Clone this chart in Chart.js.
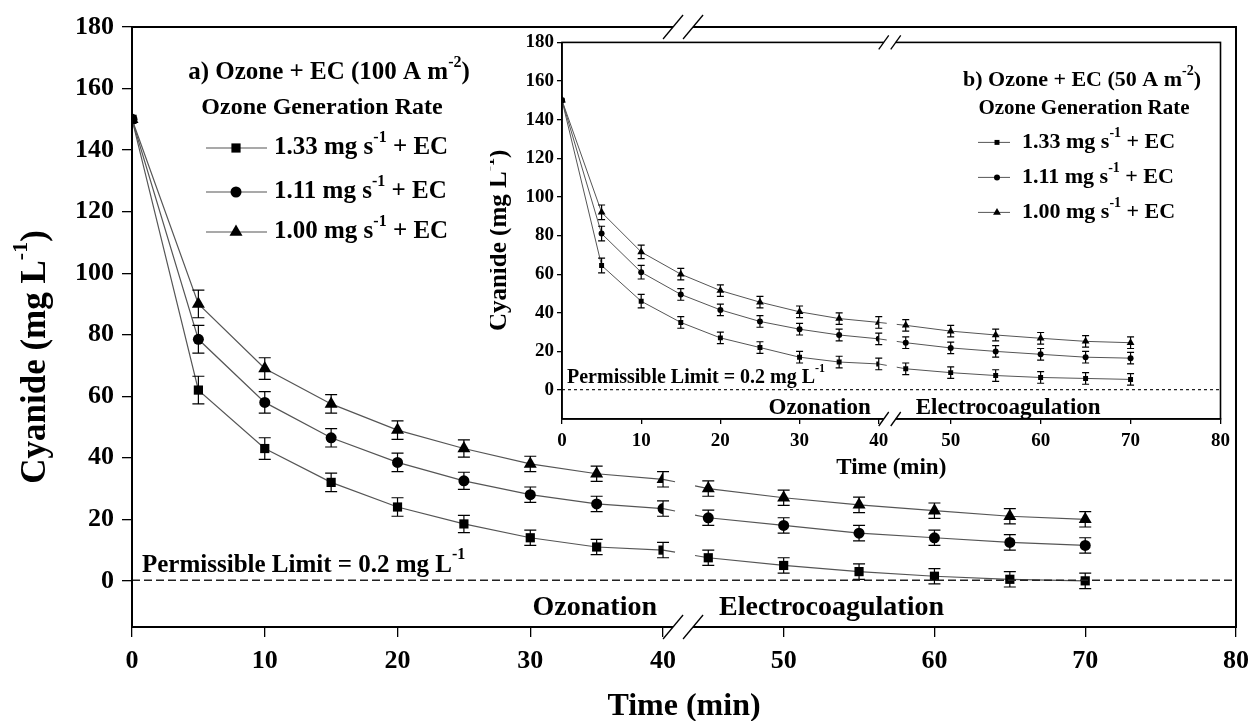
<!DOCTYPE html>
<html>
<head>
<meta charset="utf-8">
<script src="https://cdn.jsdelivr.net/npm/chart.js@4.4.1/dist/chart.umd.min.js"></script>
<style>
    html, body { margin: 0; padding: 0; background: #fff; }
    #wrap { position: relative; width: 1258px; height: 721px; }
    #main_canvas { position: absolute; left: 0; top: 0; }
    #inset_canvas { position: absolute; left: 490px; top: 28px; }
</style>
</head>
<body>
<div id="wrap">
    <canvas id="main_canvas" width="1258" height="721"></canvas>
    <canvas id="inset_canvas" width="746" height="456"></canvas>
</div>
<script>
// sampling times (min): ozonation phase, then electrocoagulation phase
const ozone_time = [0, 5, 10, 15, 20, 25, 30, 35, 40];
const ec_time = [45, 50, 55, 60, 65, 70];

const series_labels = ["1.33", "1.11", "1.00"];
const series_markers = ["rect", "circle", "triangle"];

// a) Ozone + EC (100 A m-2), cyanide in mg/L
const a_133_ozone = [150, 62, 43, 32, 24, 18.5, 14, 11, 10];
const a_133_ec = [7.5, 5, 3, 1.5, 0.5, 0];
const a_111_ozone = [150, 78.5, 58, 46.5, 38.5, 32.5, 28, 25, 23.5];
const a_111_ec = [20.5, 18, 15.5, 14, 12.5, 11.5];
const a_100_ozone = [150, 90, 69, 57.5, 49, 43, 38, 34.8, 33];
const a_100_ec = [30, 27, 24.7, 22.8, 21, 20];
const a_err_ozone = [0, 4.5, 3.5, 3, 3, 2.8, 2.5, 2.5, 2.5];
const a_err_ec = [2.5, 2.5, 2.5, 2.5, 2.5, 2.5];

// b) Ozone + EC (50 A m-2)
const b_133_ozone = [150, 64.5, 46, 35, 27, 22, 17, 14.5, 13.5];
const b_133_ec = [11, 9, 7.5, 6.5, 6, 5.5];
const b_111_ozone = [150, 81, 61, 49.5, 41.5, 35.5, 31.5, 28.5, 26.5];
const b_111_ec = [24.5, 21.8, 20, 18.5, 17, 16.5];
const b_100_ozone = [150, 92, 71.5, 60, 51.5, 45.5, 40.5, 37, 35];
const b_100_ec = [33.5, 30.5, 28.5, 26.8, 25.2, 24.5];
const b_err_ozone = [0, 3.8, 3.5, 3, 3, 3, 3, 3, 3];
const b_err_ec = [3, 3, 3, 3, 3, 3];

// axes
const y_min = -15;
const y_max = 180;
const y_step = 20;
const x_ozone_range = [0, 40];
const x_ec_range = [42, 80];
const x_step = 10;
const permissible_limit = 0.2;

const font_family = '"Liberation Serif", "Times New Roman", serif';
const line_color = "#555";

function draw_rich(ctx, parts, x, y, size, align) {
    const sup_size = Math.round(size * 0.62);
    let total = 0;
    const widths = parts.map(([t, sup]) => {
        ctx.font = "bold " + (sup ? sup_size : size) + "px " + font_family;
        const w = ctx.measureText(t).width;
        total += w;
        return w;
    });
    let cx = align === "center" ? x - total / 2 : (align === "right" ? x - total : x);
    ctx.textAlign = "left";
    ctx.textBaseline = "middle";
    ctx.fillStyle = "#000";
    parts.forEach(([t, sup], k) => {
        ctx.font = "bold " + (sup ? sup_size : size) + "px " + font_family;
        ctx.fillText(t, cx, sup ? y - size * 0.42 : y);
        cx += widths[k];
    });
}

function draw_marker(ctx, style, x, y, r) {
    ctx.beginPath();
    if (style === "rect") {
        const s = r * Math.SQRT1_2;
        ctx.rect(x - s, y - s, 2 * s, 2 * s);
    } else if (style === "circle") {
        ctx.arc(x, y, r, 0, Math.PI * 2);
    } else {
        let rad = 0;
        ctx.moveTo(x + Math.sin(rad) * r, y - Math.cos(rad) * r);
        rad += Math.PI * 2 / 3;
        ctx.lineTo(x + Math.sin(rad) * r, y - Math.cos(rad) * r);
        rad += Math.PI * 2 / 3;
        ctx.lineTo(x + Math.sin(rad) * r, y - Math.cos(rad) * r);
        ctx.closePath();
    }
    ctx.fillStyle = "#000";
    ctx.fill();
}

function make_datasets(ozone_sets, ec_sets, err_ozone, err_ec, sizes, line_width) {
    const datasets = [];
    for (let s = 0; s < series_labels.length; s++) {
        const common = {
            borderColor: line_color,
            borderWidth: line_width,
            pointStyle: series_markers[s],
            pointRadius: sizes[s],
            pointBackgroundColor: "#000",
            pointBorderColor: "#000",
            pointBorderWidth: 0,
            tension: 0,
            fill: false
        };
        datasets.push(Object.assign({
            label: series_labels[s] + " mg/s + EC",
            xAxisID: "x_ozone",
            data: ozone_time.map((t, j) => ({x: t, y: ozone_sets[s][j]})),
            error_bars: err_ozone
        }, common));
        datasets.push(Object.assign({
            label: series_labels[s] + " mg/s + EC (EC)",
            xAxisID: "x_ec",
            data: ec_time.map((t, j) => ({x: t, y: ec_sets[s][j]})),
            error_bars: err_ec
        }, common));
    }
    return datasets;
}

// decorations: frame, axis breaks, error bars, labels, legend
function panel_plugin(cfg) {
    return {
        id: "panel_decor",
        beforeDatasetsDraw(chart) {
            const ctx = chart.ctx;
            const brk_x = chart.scales.x_ozone.right;
            ctx.save();
            ctx.strokeStyle = line_color;
            ctx.lineWidth = cfg.line_width;
            for (let s = 0; s < series_labels.length; s++) {
                const a = chart.getDatasetMeta(2 * s).data;
                const b = chart.getDatasetMeta(2 * s + 1).data;
                const p1 = a[a.length - 1], p2 = b[0];
                const at = (px) => p1.y + (p2.y - p1.y) * (px - p1.x) / (p2.x - p1.x);
                const g0 = brk_x + cfg.brk.gap0, g1 = brk_x + cfg.brk.gap1;
                ctx.beginPath();
                ctx.moveTo(p1.x, p1.y);
                ctx.lineTo(g0, at(g0));
                ctx.moveTo(g1, at(g1));
                ctx.lineTo(p2.x, p2.y);
                ctx.stroke();
            }
            ctx.restore();
        },
        afterDatasetsDraw(chart) {
            const ctx = chart.ctx;
            const y_scale = chart.scales.y;
            ctx.save();
            ctx.strokeStyle = "#000";
            ctx.lineWidth = 1.2;
            chart.data.datasets.forEach((ds, d) => {
                const meta = chart.getDatasetMeta(d);
                meta.data.forEach((pt, j) => {
                    const e = ds.error_bars[j];
                    if (!e) { return; }
                    const v = ds.data[j].y;
                    const top = y_scale.getPixelForValue(v + e);
                    const bot = y_scale.getPixelForValue(v - e);
                    const c = cfg.cap / 2;
                    ctx.beginPath();
                    ctx.moveTo(pt.x, top); ctx.lineTo(pt.x, bot);
                    ctx.moveTo(pt.x - c, top); ctx.lineTo(pt.x + c, top);
                    ctx.moveTo(pt.x - c, bot); ctx.lineTo(pt.x + c, bot);
                    ctx.stroke();
                });
            });
            ctx.restore();
        },
        afterDraw(chart) {
            const ctx = chart.ctx;
            const area = chart.chartArea;
            const y_scale = chart.scales.y;
            const brk_x = chart.scales.x_ozone.right;
            ctx.save();

            // permissible limit line
            const lim_y = y_scale.getPixelForValue(permissible_limit);
            ctx.strokeStyle = "#222";
            ctx.lineWidth = cfg.limit.width;
            ctx.setLineDash(cfg.limit.dash);
            ctx.beginPath();
            ctx.moveTo(area.left, lim_y);
            ctx.lineTo(area.right, lim_y);
            ctx.stroke();
            ctx.setLineDash([]);

            // frame
            ctx.strokeStyle = "#000";
            ctx.lineWidth = cfg.frame_width;
            ctx.strokeRect(area.left, area.top, area.right - area.left, area.bottom - area.top);

            // axis break marks on top and bottom edges
            const b = cfg.brk;
            for (const edge of [area.top, area.bottom]) {
                ctx.fillStyle = "#fff";
                ctx.fillRect(brk_x + b.slant / 2, edge - 3, b.sep, 6);
                ctx.strokeStyle = "#000";
                ctx.lineWidth = 1.3;
                for (let k = 0; k < 2; k++) {
                    const x0 = brk_x + k * b.sep;
                    ctx.beginPath();
                    ctx.moveTo(x0, edge + b.half_h);
                    ctx.lineTo(x0 + b.slant, edge - b.half_h);
                    ctx.stroke();
                }
            }

            // axis titles
            ctx.save();
            ctx.translate(area.left + cfg.y_title.dx, area.top + cfg.y_title.dy);
            ctx.rotate(-Math.PI / 2);
            draw_rich(ctx, cfg.y_title.parts, 0, 0, cfg.y_title.size, "center");
            ctx.restore();
            draw_rich(ctx, [["Time (min)", 0]], (area.left + area.right) / 2, area.bottom + cfg.x_title.dy, cfg.x_title.size, "center");

            // heading lines
            for (const h of cfg.heading) {
                draw_rich(ctx, h.parts, area.left + h.dx, area.top + h.dy, h.size, "center");
            }

            // legend
            const lg = cfg.legend;
            series_labels.forEach((name, s) => {
                const ly = area.top + lg.rows[s];
                ctx.strokeStyle = line_color;
                ctx.lineWidth = cfg.line_width;
                ctx.beginPath();
                ctx.moveTo(area.left + lg.x0, ly);
                ctx.lineTo(area.left + lg.x1, ly);
                ctx.stroke();
                draw_marker(ctx, series_markers[s], area.left + lg.xm, ly, cfg.marker_sizes[s]);
                draw_rich(ctx, [[name + " mg s", 0], ["-1", 1], [" + EC", 0]], area.left + lg.xt, ly, lg.size, "left");
            });

            // permissible limit label
            draw_rich(ctx, [["Permissible Limit = 0.2 mg L", 0], ["-1", 1]], area.left + cfg.limit.dx, lim_y + cfg.limit.dy, cfg.limit.size, "left");

            // phase labels
            const ph = cfg.phase;
            draw_rich(ctx, [["Ozonation", 0]], brk_x + ph.oz_dx, area.bottom + ph.dy, ph.size, "right");
            draw_rich(ctx, [["Electrocoagulation", 0]], brk_x + ph.ec_dx, area.bottom + ph.dy, ph.size, "left");

            ctx.restore();
        }
    };
}

function make_config(datasets, sc, cfg) {
    const tick_font = {family: font_family, size: sc.tick_size, weight: "bold"};
    const x_axis = (range, weight) => ({
        type: "linear",
        position: "bottom",
        stack: "time",
        stackWeight: weight,
        min: range[0],
        max: range[1],
        afterFit: (scale) => { scale.height = sc.x_height; },
        grid: {drawOnChartArea: false, drawTicks: true, tickLength: sc.tick_len, color: "#000", lineWidth: 1.3},
        border: {display: true, color: "#000", width: cfg.frame_width},
        ticks: {stepSize: x_step, includeBounds: false, color: "#000", font: tick_font, padding: sc.x_pad, maxRotation: 0, autoSkip: false}
    });
    return {
        type: "line",
        data: {datasets: datasets},
        options: {
            responsive: false,
            animation: false,
            events: [],
            layout: {padding: {top: sc.pad_top, right: sc.pad_right, left: 0, bottom: 0}},
            plugins: {legend: {display: false}, tooltip: {enabled: false}, title: {display: false}},
            scales: {
                y: {
                    type: "linear",
                    position: "left",
                    min: y_min,
                    max: y_max,
                    afterFit: (scale) => { scale.width = sc.y_width; },
                    grid: {drawOnChartArea: false, drawTicks: true, tickLength: sc.tick_len, color: "#000", lineWidth: 1.3},
                    border: {display: true, color: "#000", width: cfg.frame_width},
                    ticks: {stepSize: y_step, includeBounds: false, color: "#000", font: tick_font, padding: sc.y_pad}
                },
                x_ozone: x_axis(x_ozone_range, 532),
                x_ec: x_axis(x_ec_range, 574)
            }
        },
        plugins: [panel_plugin(cfg)]
    };
}

// main panel (a)
const main_cfg = {
    frame_width: 2,
    line_width: 1.2,
    cap: 12,
    marker_sizes: [6.5, 5.5, 7.5],
    brk: {half_h: 12, slant: 20, sep: 20, gap0: 12, gap1: 32},
    limit: {width: 1.5, dash: [8, 4], size: 25, dx: 10, dy: -15},
    y_title: {parts: [["Cyanide (mg L", 0], ["-1", 1], [")", 0]], size: 35, dx: -96, dy: 330},
    x_title: {size: 32, dy: 80},
    heading: [
        {parts: [["a) Ozone + EC (100 A m", 0], ["-2", 1], [")", 0]], size: 25, dx: 197, dy: 46},
        {parts: [["Ozone Generation Rate", 0]], size: 24, dx: 190, dy: 81}
    ],
    legend: {x0: 74, x1: 135, xm: 104, xt: 142, rows: [121, 165, 205], size: 25},
    phase: {size: 28, dy: -19, oz_dx: -6, ec_dx: 56}
};
const main_scales = {tick_size: 26, tick_len: 10, x_pad: 9, y_pad: 8, x_height: 94, y_width: 132, pad_top: 27, pad_right: 20};

new Chart(document.getElementById("main_canvas"), make_config(
    make_datasets([a_133_ozone, a_111_ozone, a_100_ozone], [a_133_ec, a_111_ec, a_100_ec], a_err_ozone, a_err_ec, main_cfg.marker_sizes, main_cfg.line_width),
    main_scales, main_cfg));

// inset panel (b)
const inset_cfg = {
    frame_width: 1.6,
    line_width: 1,
    cap: 7,
    marker_sizes: [3.5, 3, 4.5],
    brk: {half_h: 7, slant: 10, sep: 12, gap0: 8, gap1: 18},
    limit: {width: 1.2, dash: [3, 3], size: 20, dx: 5, dy: -12},
    y_title: {parts: [["Cyanide (mg L", 0], ["-1", 1], [")", 0]], size: 25, dx: -62, dy: 198},
    x_title: {size: 23, dy: 49},
    heading: [
        {parts: [["b) Ozone + EC (50 A m", 0], ["-2", 1], [")", 0]], size: 22, dx: 520, dy: 38},
        {parts: [["Ozone Generation Rate", 0]], size: 21, dx: 522, dy: 66}
    ],
    legend: {x0: 416, x1: 448, xm: 435, xt: 460, rows: [100, 135, 170], size: 22},
    phase: {size: 23, dy: -11, oz_dx: -8, ec_dx: 37}
};
const inset_scales = {tick_size: 19, tick_len: 5, x_pad: 6, y_pad: 3, x_height: 65, y_width: 72, pad_top: 12, pad_right: 10};

new Chart(document.getElementById("inset_canvas"), make_config(
    make_datasets([b_133_ozone, b_111_ozone, b_100_ozone], [b_133_ec, b_111_ec, b_100_ec], b_err_ozone, b_err_ec, inset_cfg.marker_sizes, inset_cfg.line_width),
    inset_scales, inset_cfg));
</script>
</body>
</html>
